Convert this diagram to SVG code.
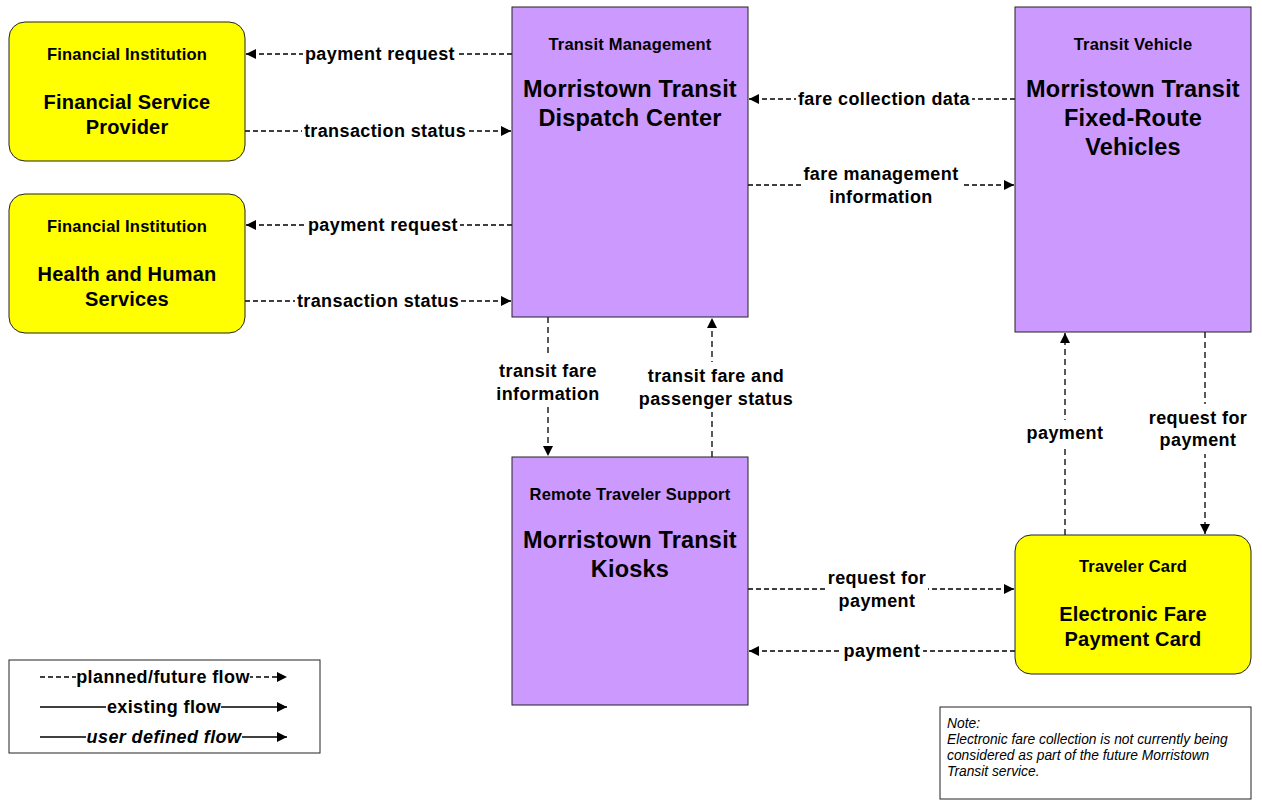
<svg xmlns="http://www.w3.org/2000/svg" width="1262" height="800" viewBox="0 0 1262 800">
<defs>
<marker id="ah" viewBox="0 0 10 10" refX="10" refY="5" markerWidth="10" markerHeight="10" markerUnits="userSpaceOnUse" orient="auto">
<path d="M0,0 L10,5 L0,10 z" fill="#000"/>
</marker>
<style>
.y{fill:#FFFF00;stroke:#222;stroke-width:1}
.p{fill:#CC99FF;stroke:#222;stroke-width:1}
text{font-family:"Liberation Sans",Arial,sans-serif;font-weight:bold;fill:#000;text-anchor:middle}
.st{font-size:16.5px;letter-spacing:0.2px}
.by{font-size:20px;letter-spacing:0.2px}
.bp{font-size:23.5px;letter-spacing:0.2px}
.cl{font-size:18px;letter-spacing:0.4px}
.f{stroke:#000;stroke-width:1.3;fill:none;stroke-dasharray:5,3;marker-end:url(#ah)}
.fv{stroke:#000;stroke-width:1.3;fill:none;stroke-dasharray:6,4;marker-end:url(#ah)}
.bg{fill:#fff}
.note{font-family:"Liberation Sans",Arial,sans-serif;font-style:italic;font-weight:normal;font-size:13.8px;text-anchor:start}
</style>
</defs>
<rect width="1262" height="800" fill="#fff"/>

<g id="connectors">
<line class="f" x1="512" y1="54" x2="246" y2="54"/>
<rect class="bg" x="303" y="44" width="154" height="20"/>
<text class="cl" x="380" y="60">payment request</text>

<line class="f" x1="245" y1="131" x2="511" y2="131"/>
<rect class="bg" x="302" y="121" width="166" height="20"/>
<text class="cl" x="385" y="137">transaction status</text>

<line class="f" x1="512" y1="225" x2="246" y2="225"/>
<rect class="bg" x="306" y="215" width="154" height="20"/>
<text class="cl" x="383" y="231">payment request</text>

<line class="f" x1="245" y1="301" x2="511" y2="301"/>
<rect class="bg" x="295" y="291" width="166" height="20"/>
<text class="cl" x="378" y="307">transaction status</text>

<line class="f" x1="1015" y1="99" x2="749" y2="99"/>
<rect class="bg" x="796" y="89" width="176" height="20"/>
<text class="cl" x="884" y="105">fare collection data</text>

<line class="f" x1="748" y1="185" x2="1014" y2="185"/>
<rect class="bg" x="802" y="163" width="159" height="46"/>
<text class="cl" x="881" y="180">fare management</text>
<text class="cl" x="881" y="203">information</text>

<line class="fv" x1="548" y1="317" x2="548" y2="456"/>
<rect class="bg" x="495" y="357" width="106" height="50"/>
<text class="cl" x="548" y="377">transit fare</text>
<text class="cl" x="548" y="400">information</text>

<line class="fv" x1="712" y1="457" x2="712" y2="318"/>
<rect class="bg" x="637" y="362" width="158" height="50"/>
<text class="cl" x="716" y="382">transit fare and</text>
<text class="cl" x="716" y="405">passenger status</text>

<line class="fv" x1="1065" y1="535" x2="1065" y2="333"/>
<rect class="bg" x="1024" y="420" width="82" height="26"/>
<text class="cl" x="1065" y="439">payment</text>

<line class="fv" x1="1205" y1="332" x2="1205" y2="534"/>
<rect class="bg" x="1147" y="404" width="102" height="50"/>
<text class="cl" x="1198" y="424">request for</text>
<text class="cl" x="1198" y="446">payment</text>

<line class="f" x1="748" y1="589" x2="1014" y2="589"/>
<rect class="bg" x="826" y="566" width="102" height="46"/>
<text class="cl" x="877" y="584">request for</text>
<text class="cl" x="877" y="607">payment</text>

<line class="f" x1="1015" y1="651" x2="749" y2="651"/>
<rect class="bg" x="841" y="641" width="82" height="20"/>
<text class="cl" x="882" y="657">payment</text>
</g>

<g id="fi1">
<rect class="y" x="9" y="22" width="236" height="139" rx="16"/>
<text class="st" x="127" y="60">Financial Institution</text>
<text class="by" x="127" y="109">Financial Service</text>
<text class="by" x="127" y="134">Provider</text>
</g>

<g id="fi2">
<rect class="y" x="9" y="194" width="236" height="139" rx="16"/>
<text class="st" x="127" y="232">Financial Institution</text>
<text class="by" x="127" y="281">Health and Human</text>
<text class="by" x="127" y="306">Services</text>
</g>

<g id="tm">
<rect class="p" x="512" y="7" width="236" height="310"/>
<text class="st" x="630" y="50">Transit Management</text>
<text class="bp" x="630" y="97">Morristown Transit</text>
<text class="bp" x="630" y="126">Dispatch Center</text>
</g>

<g id="tv">
<rect class="p" x="1015" y="7" width="236" height="325"/>
<text class="st" x="1133" y="50">Transit Vehicle</text>
<text class="bp" x="1133" y="97">Morristown Transit</text>
<text class="bp" x="1133" y="126">Fixed-Route</text>
<text class="bp" x="1133" y="155">Vehicles</text>
</g>

<g id="rts">
<rect class="p" x="512" y="457" width="236" height="248"/>
<text class="st" x="630" y="500">Remote Traveler Support</text>
<text class="bp" x="630" y="548">Morristown Transit</text>
<text class="bp" x="630" y="577">Kiosks</text>
</g>

<g id="tc">
<rect class="y" x="1015" y="535" width="236" height="139" rx="16"/>
<text class="st" x="1133" y="572">Traveler Card</text>
<text class="by" x="1133" y="621">Electronic Fare</text>
<text class="by" x="1133" y="646">Payment Card</text>
</g>

<g id="legend">
<rect x="9" y="660" width="311" height="93" fill="#fff" stroke="#222" stroke-width="1"/>
<line x1="40" y1="677" x2="287" y2="677" stroke="#000" stroke-width="1.3" stroke-dasharray="5,3" marker-end="url(#ah)"/>
<rect class="bg" x="76" y="667" width="174" height="20"/>
<text class="cl" x="163" y="683">planned/future flow</text>
<line x1="40" y1="707" x2="287" y2="707" stroke="#000" stroke-width="1.3" marker-end="url(#ah)"/>
<rect class="bg" x="106" y="697" width="115" height="20"/>
<text class="cl" x="164" y="713">existing flow</text>
<line x1="40" y1="737" x2="287" y2="737" stroke="#000" stroke-width="1.3" marker-end="url(#ah)"/>
<rect class="bg" x="86" y="727" width="156" height="20"/>
<text class="cl" x="164" y="743" font-style="italic">user defined flow</text>
</g>

<g id="note">
<rect x="940" y="707" width="311" height="92" fill="#fff" stroke="#222" stroke-width="1"/>
<text class="note" x="947" y="728">Note:</text>
<text class="note" x="947" y="744">Electronic fare collection is not currently being</text>
<text class="note" x="947" y="760">considered as part of the future Morristown</text>
<text class="note" x="947" y="776">Transit service.</text>
</g>
</svg>
